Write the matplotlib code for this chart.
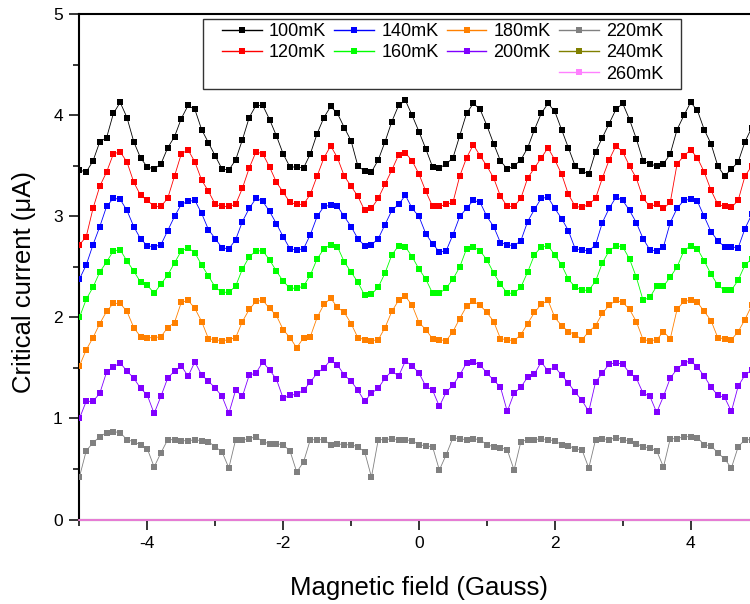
import numpy as np
import matplotlib
matplotlib.use("Agg")
from matplotlib import pyplot as plt
from matplotlib.lines import Line2D
from matplotlib.patches import Rectangle

plt.rcParams['font.family'] = ['Liberation Sans', 'DejaVu Sans']
plt.rcParams['axes.unicode_minus'] = False

# field axis, one point every 0.1 Gauss
field = np.round(np.arange(-5.0, 5.0001, 0.1), 1)

i_100 = [3.46, 3.44, 3.55, 3.74, 3.78, 4.02, 4.13, 3.98, 3.74, 3.58,
         3.49, 3.47, 3.52, 3.68, 3.79, 3.97, 4.10, 4.06, 3.86, 3.73,
         3.60, 3.47, 3.46, 3.56, 3.76, 3.98, 4.10, 4.10, 3.96, 3.80,
         3.62, 3.49, 3.49, 3.48, 3.62, 3.82, 3.98, 4.09, 4.02, 3.88,
         3.75, 3.50, 3.45, 3.44, 3.56, 3.74, 3.94, 4.10, 4.15, 4.00,
         3.84, 3.67, 3.49, 3.48, 3.52, 3.58, 3.80, 4.02, 4.12, 4.06,
         3.90, 3.72, 3.55, 3.47, 3.50, 3.56, 3.68, 3.86, 4.02, 4.12,
         4.04, 3.86, 3.68, 3.50, 3.45, 3.42, 3.64, 3.78, 3.92, 4.06,
         4.12, 3.96, 3.77, 3.55, 3.52, 3.50, 3.52, 3.62, 3.86, 4.00,
         4.13, 4.05, 3.86, 3.72, 3.50, 3.40, 3.47, 3.54, 3.74, 3.88, 3.95]

i_120 = [2.72, 2.80, 3.08, 3.30, 3.44, 3.62, 3.64, 3.54, 3.34, 3.21,
         3.16, 3.10, 3.10, 3.18, 3.40, 3.62, 3.66, 3.54, 3.36, 3.25,
         3.12, 3.10, 3.10, 3.12, 3.28, 3.48, 3.64, 3.62, 3.49, 3.34,
         3.24, 3.14, 3.12, 3.12, 3.22, 3.40, 3.58, 3.70, 3.58, 3.40,
         3.30, 3.20, 3.06, 3.08, 3.18, 3.32, 3.46, 3.61, 3.63, 3.55,
         3.42, 3.25, 3.10, 3.10, 3.12, 3.14, 3.40, 3.58, 3.71, 3.60,
         3.50, 3.38, 3.20, 3.10, 3.10, 3.18, 3.38, 3.48, 3.58, 3.68,
         3.56, 3.42, 3.22, 3.10, 3.09, 3.12, 3.18, 3.38, 3.56, 3.70,
         3.64, 3.50, 3.38, 3.18, 3.10, 3.12, 3.08, 3.14, 3.52, 3.60,
         3.66, 3.58, 3.44, 3.26, 3.12, 3.10, 3.09, 3.16, 3.40, 3.50, 3.58]

i_140 = [2.38, 2.52, 2.72, 2.90, 3.10, 3.18, 3.17, 3.06, 2.90, 2.78,
         2.71, 2.70, 2.72, 2.86, 3.00, 3.12, 3.15, 3.16, 3.03, 2.87,
         2.78, 2.69, 2.68, 2.77, 2.95, 3.08, 3.18, 3.15, 3.05, 2.93,
         2.80, 2.68, 2.67, 2.68, 2.82, 3.00, 3.10, 3.11, 3.10, 3.00,
         2.90, 2.78, 2.71, 2.72, 2.78, 2.92, 3.06, 3.12, 3.21, 3.08,
         3.00, 2.83, 2.73, 2.65, 2.66, 2.82, 3.00, 3.08, 3.16, 3.14,
         3.00, 2.90, 2.74, 2.72, 2.71, 2.76, 2.95, 3.07, 3.18, 3.19,
         3.08, 2.98, 2.86, 2.68, 2.67, 2.66, 2.72, 2.94, 3.08, 3.19,
         3.16, 3.06, 2.94, 2.78, 2.67, 2.66, 2.70, 2.94, 3.08, 3.16,
         3.17, 3.15, 3.00, 2.85, 2.76, 2.70, 2.70, 2.69, 2.88, 3.02, 3.10]

i_160 = [2.00, 2.18, 2.30, 2.45, 2.55, 2.66, 2.67, 2.56, 2.46, 2.35,
         2.32, 2.24, 2.33, 2.42, 2.54, 2.66, 2.69, 2.64, 2.52, 2.41,
         2.30, 2.25, 2.25, 2.31, 2.48, 2.60, 2.66, 2.66, 2.57, 2.46,
         2.36, 2.29, 2.29, 2.31, 2.42, 2.58, 2.68, 2.72, 2.70, 2.55,
         2.45, 2.35, 2.22, 2.23, 2.30, 2.44, 2.62, 2.71, 2.70, 2.60,
         2.48, 2.38, 2.24, 2.24, 2.29, 2.38, 2.50, 2.68, 2.70, 2.66,
         2.57, 2.44, 2.33, 2.24, 2.24, 2.30, 2.45, 2.62, 2.70, 2.71,
         2.62, 2.52, 2.38, 2.30, 2.27, 2.27, 2.36, 2.54, 2.66, 2.71,
         2.70, 2.58, 2.40, 2.17, 2.20, 2.31, 2.31, 2.40, 2.50, 2.66,
         2.71, 2.68, 2.56, 2.43, 2.32, 2.27, 2.27, 2.37, 2.52, 2.58, 2.62]

i_180 = [1.52, 1.68, 1.80, 1.94, 2.06, 2.14, 2.14, 2.06, 1.90, 1.81,
         1.80, 1.80, 1.81, 1.90, 1.95, 2.15, 2.17, 2.09, 1.96, 1.79,
         1.78, 1.77, 1.78, 1.80, 1.96, 2.08, 2.16, 2.17, 2.09, 2.02,
         1.88, 1.80, 1.70, 1.80, 1.81, 2.00, 2.13, 2.19, 2.10, 2.05,
         1.94, 1.80, 1.78, 1.77, 1.78, 1.90, 2.06, 2.17, 2.21, 2.12,
         1.95, 1.88, 1.79, 1.78, 1.77, 1.86, 1.99, 2.11, 2.16, 2.12,
         2.05, 1.96, 1.79, 1.78, 1.77, 1.83, 1.94, 2.05, 2.13, 2.17,
         2.00, 1.92, 1.86, 1.83, 1.78, 1.86, 1.92, 2.04, 2.12, 2.17,
         2.15, 2.08, 1.96, 1.78, 1.77, 1.78, 1.86, 1.79, 2.08, 2.16,
         2.17, 2.15, 2.06, 1.97, 1.80, 1.79, 1.78, 1.86, 1.98, 2.12, 2.18]

i_200 = [1.00, 1.17, 1.17, 1.25, 1.46, 1.51, 1.55, 1.47, 1.40, 1.30,
         1.23, 1.05, 1.22, 1.40, 1.47, 1.52, 1.42, 1.56, 1.43, 1.37,
         1.30, 1.22, 1.05, 1.28, 1.22, 1.43, 1.45, 1.56, 1.48, 1.39,
         1.20, 1.23, 1.24, 1.28, 1.36, 1.45, 1.50, 1.58, 1.53, 1.43,
         1.37, 1.28, 1.17, 1.25, 1.30, 1.40, 1.47, 1.42, 1.57, 1.52,
         1.45, 1.32, 1.28, 1.12, 1.26, 1.33, 1.43, 1.55, 1.56, 1.53,
         1.45, 1.38, 1.31, 1.07, 1.25, 1.31, 1.41, 1.44, 1.56, 1.47,
         1.51, 1.43, 1.35, 1.26, 1.18, 1.07, 1.36, 1.45, 1.54, 1.55,
         1.54, 1.45, 1.40, 1.25, 1.22, 1.06, 1.22, 1.40, 1.49, 1.55,
         1.57, 1.51, 1.42, 1.31, 1.23, 1.21, 1.07, 1.32, 1.43, 1.48, 1.50]

i_220 = [0.42, 0.68, 0.76, 0.82, 0.86, 0.87, 0.86, 0.79, 0.77, 0.74,
         0.70, 0.52, 0.66, 0.79, 0.79, 0.78, 0.78, 0.79, 0.78, 0.77,
         0.72, 0.67, 0.51, 0.79, 0.79, 0.80, 0.82, 0.77, 0.75, 0.75,
         0.74, 0.68, 0.47, 0.57, 0.79, 0.79, 0.79, 0.74, 0.75, 0.74,
         0.74, 0.72, 0.67, 0.42, 0.79, 0.79, 0.80, 0.79, 0.79, 0.78,
         0.74, 0.73, 0.72, 0.49, 0.64, 0.81, 0.80, 0.79, 0.80, 0.79,
         0.74, 0.72, 0.71, 0.69, 0.49, 0.77, 0.79, 0.79, 0.80, 0.79,
         0.78, 0.74, 0.73, 0.70, 0.69, 0.51, 0.79, 0.80, 0.79, 0.81,
         0.79, 0.78, 0.75, 0.72, 0.71, 0.68, 0.52, 0.80, 0.80, 0.82,
         0.82, 0.81, 0.74, 0.73, 0.66, 0.60, 0.51, 0.72, 0.79, 0.79, 0.79]

# 240mK and 260mK sit flat on zero
i_240 = [0.0] * len(field)
i_260 = [0.0] * len(field)

labels = ['100mK', '120mK', '140mK', '160mK', '180mK', '200mK', '220mK', '240mK', '260mK']
colors = ['#000000', '#ff0000', '#0000ff', '#00ff00', '#ff8000', '#8000ff', '#808080', '#808000', '#ff80ff']
series = [i_100, i_120, i_140, i_160, i_180, i_200, i_220, i_240, i_260]

fig = plt.figure(figsize=(7.5, 6.04), dpi=100)
ax = fig.add_axes([0.1059, 0.1399, 0.9055, 0.8361])

handles = []
for vals, col, lab in zip(series, colors, labels):
    if max(vals) > 0:
        ax.plot(field, vals, color=col, lw=0.6, marker='s', ms=5.0, mew=0, zorder=3)
    else:
        # flat traces: only the line shows, lying on the axis
        ax.plot(field, vals, color=col, lw=1.2, zorder=4, clip_on=False)
    handles.append(Line2D([], [], color=col, lw=1.0, marker='s', ms=4.2, mew=0))

ax.set_xlim(-5, 5)
ax.set_ylim(0, 5)
ax.set_xticks([-4, -2, 0, 2, 4])
ax.set_xticks([-5, -3, -1, 1, 3, 5], minor=True)
ax.set_yticks([0, 1, 2, 3, 4, 5])
ax.set_yticks([0.5, 1.5, 2.5, 3.5, 4.5], minor=True)
ax.tick_params(which='major', direction='out', length=7, width=1.1, labelsize=12.5, pad=5)
ax.tick_params(which='minor', direction='out', length=4, width=1.1)
ax.tick_params(top=False, right=False)
for s in ax.spines.values():
    s.set_linewidth(1.5)

ax.set_xlabel('Magnetic field (Gauss)', fontsize=18.5)
ax.set_ylabel('Critical current (\u03bcA)', fontsize=18.5)
ax.xaxis.set_label_coords(0.5, -0.112)
ax.yaxis.set_label_coords(-0.064, 0.47)

# blank slots so the last column holds three entries like the original
blank = Line2D([], [], linestyle='none')
order = [handles[0], handles[1], blank, handles[2], handles[3], blank,
         handles[4], handles[5], blank, handles[6], handles[7], handles[8]]
names = [labels[0], labels[1], '', labels[2], labels[3], '',
         labels[4], labels[5], '', labels[6], labels[7], labels[8]]
leg = ax.legend(order, names, ncol=4, loc='upper left',
                bbox_to_anchor=(222 / 750, 1 - 23 / 604),
                bbox_transform=fig.transFigure, borderaxespad=0, borderpad=0,
                fontsize=13, handlelength=2.2, handletextpad=0.4, labelspacing=0.24,
                columnspacing=0.45, frameon=False)
leg.set_zorder(6)

# legend frame
ax.add_patch(Rectangle((203 / 750, 1 - 89 / 604), (681 - 203) / 750, 70 / 604,
                       transform=fig.transFigure, facecolor='white', edgecolor='#333333',
                       lw=1.0, clip_on=False, zorder=5))

plt.savefig('out.png', dpi=100)
